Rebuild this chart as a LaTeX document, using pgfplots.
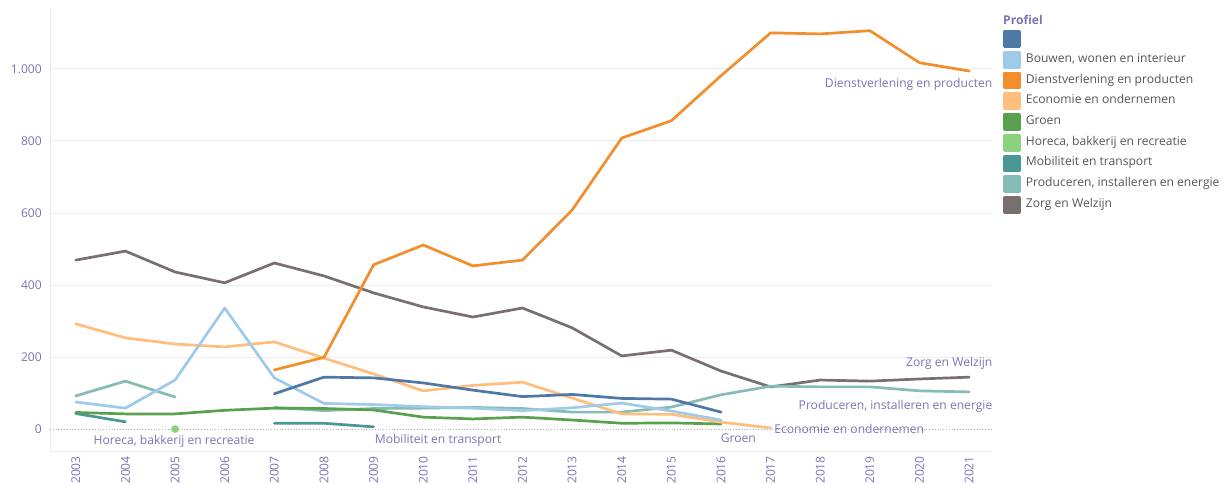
\documentclass[border=0pt]{standalone}
\usepackage{fontspec}
\setmainfont{Open Sans}
\usepackage{pgfplots}
\pgfplotsset{compat=1.18}
\definecolor{cDB}{HTML}{4E79A7}
\definecolor{cLB}{HTML}{A0CBE8}
\definecolor{cOR}{HTML}{F28E2B}
\definecolor{cLO}{HTML}{FFBE7D}
\definecolor{cGR}{HTML}{59A14F}
\definecolor{cLG}{HTML}{8CD17D}
\definecolor{cTE}{HTML}{499894}
\definecolor{cLT}{HTML}{86BCB6}
\definecolor{cBR}{HTML}{79706E}
\definecolor{txt}{HTML}{7A74B5}
\definecolor{legtxt}{HTML}{555555}
\definecolor{gridc}{HTML}{EEEEEE}
\newcommand{\fs}{\fontsize{12.1}{14}\selectfont}
\begin{document}
\begin{tikzpicture}[x=1pt,y=1pt]
\path[use as bounding box] (0,0) rectangle (1223,484);
\begin{axis}[
  at={(50pt,33pt)}, anchor=south west,
  scale only axis, width=943pt, height=443pt,
  xmin=2002.48, xmax=2021.48, ymin=-61, ymax=1169,
  clip=false,
  axis x line*=bottom, axis y line*=left,
  axis line style={draw=gridc, line width=0.8pt, -},
  xtick={2003,...,2021},
  minor x tick num=1,
  major tick length=0pt, minor tick length=5pt, tick align=outside,
  minor tick style={draw=gridc, line width=0.8pt},
  ytick={200,400,...,1000},
  extra y ticks={0},
  extra y tick style={grid style={draw=gray!60, dotted, line width=0.8pt}},
  ymajorgrids, grid style={draw=gridc, line width=0.8pt},
  /pgf/number format/assume math mode=true,
  /pgf/number format/1000 sep={.},
  yticklabel style={font=\fs, color=txt, anchor=east, inner sep=0pt},
  yticklabel shift=8pt,
  xticklabel style={font=\fs, color=txt, rotate=90, anchor=east, inner sep=0pt, /pgf/number format/1000 sep={}},
  xticklabel shift=5pt,
  unbounded coords=jump,
  every axis plot/.append style={line width=2.7pt, line join=round, line cap=round},
  legend image code/.code={\fill[#1] (0pt,-7.5pt) rectangle (15pt,7.5pt);},
  legend style={at={(1.0106,0.950)}, anchor=north west, draw=none, fill=none, inner sep=0pt,
    font=\fs, text=legtxt, row sep=3pt,
    nodes={inner sep=0pt, text height=10pt, text depth=5pt},
    /tikz/every odd column/.append style={column sep=5pt}},
  legend cell align=left,
]
% Zorg en Welzijn
\addplot[cBR, forget plot] coordinates {(2003,469)(2004,494)(2005,436)(2006,406)(2007,461)(2008,425)(2009,378)(2010,339)(2011,311)(2012,336)(2013,281)(2014,203)(2015,219)(2016,161)(2017,117)(2018,136)(2019,133)(2020,139)(2021,144)};
% Produceren
\addplot[cLT, forget plot] coordinates {(2003,92)(2004,133)(2005,89)(2006,nan)(2007,60)(2008,51)(2009,57)(2010,58)(2011,60)(2012,57)(2013,47)(2014,47)(2015,61)(2016,95)(2017,119)(2018,117)(2019,117)(2020,106)(2021,103)};
% Mobiliteit
\addplot[cTE, forget plot] coordinates {(2003,43)(2004,20)(2005,nan)(2007,16)(2008,16)(2009,6)};
% Horeca
\addplot[cLG, only marks, mark=*, mark size=2.5pt, forget plot] coordinates {(2005,0)};
% Groen
\addplot[cGR, forget plot] coordinates {(2003,46)(2004,42)(2005,42)(2006,52)(2007,58)(2008,57)(2009,53)(2010,33)(2011,28)(2012,33)(2013,25)(2014,16)(2015,17)(2016,14)};
% Economie
\addplot[cLO, forget plot] coordinates {(2003,292)(2004,253)(2005,236)(2006,228)(2007,242)(2008,197)(2009,153)(2010,106)(2011,121)(2012,130)(2013,86)(2014,42)(2015,41)(2016,19)(2017,3)};
% Bouwen
\addplot[cLB, forget plot] coordinates {(2003,75)(2004,58)(2005,136)(2006,336)(2007,142)(2008,71)(2009,68)(2010,62)(2011,58)(2012,51)(2013,59)(2014,72)(2015,50)(2016,25)};
% Dienstverlening
\addplot[cOR, forget plot] coordinates {(2007,164)(2008,199)(2009,456)(2010,511)(2011,453)(2012,469)(2013,608)(2014,808)(2015,856)(2016,981)(2017,1100)(2018,1097)(2019,1106)(2020,1017)(2021,994)};
% unnamed
\addplot[cDB, forget plot] coordinates {(2007,98)(2008,144)(2009,142)(2010,128)(2011,108)(2012,90)(2013,96)(2014,85)(2015,83)(2016,47)};

\addlegendimage{cDB}\addlegendentry{\phantom{x}}
\addlegendimage{cLB}\addlegendentry{Bouwen, wonen en interieur}
\addlegendimage{cOR}\addlegendentry{Dienstverlening en producten}
\addlegendimage{cLO}\addlegendentry{Economie en ondernemen}
\addlegendimage{cGR}\addlegendentry{Groen}
\addlegendimage{cLG}\addlegendentry{Horeca, bakkerij en recreatie}
\addlegendimage{cTE}\addlegendentry{Mobiliteit en transport}
\addlegendimage{cLT}\addlegendentry{Produceren, installeren en energie}
\addlegendimage{cBR}\addlegendentry{Zorg en Welzijn}

\node[anchor=west, inner sep=0pt, font=\fs\bfseries, color=txt] at (axis description cs:1.0106,0.973) {Profiel};

\begin{scope}[every node/.style={font=\fs, color=txt, inner sep=0pt}]
\node[anchor=east] at (axis cs:2021.47,958) {Dienstverlening en producten};
\node[anchor=east] at (axis cs:2021.47,181) {Zorg en Welzijn};
\node[anchor=east] at (axis cs:2021.47,64) {Produceren, installeren en energie};
\node[anchor=west] at (axis cs:2017.07,0) {Economie en ondernemen};
\node at (axis cs:2016.35,-25) {Groen};
\node at (axis cs:2010.3,-31) {Mobiliteit en transport};
\node at (axis cs:2004.98,-33) {Horeca, bakkerij en recreatie};
\end{scope}
\end{axis}
\end{tikzpicture}
\end{document}
